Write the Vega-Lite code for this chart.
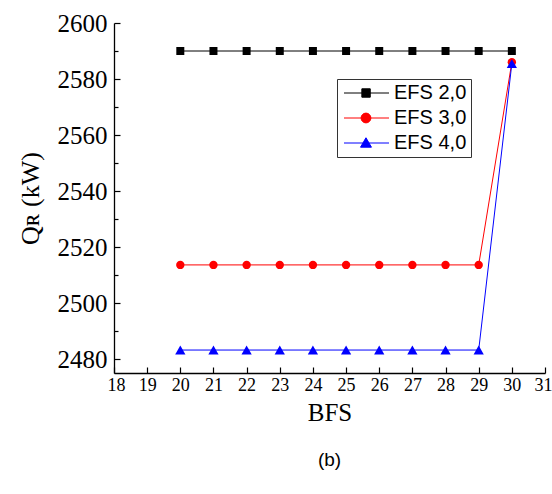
{
  "$schema": "https://vega.github.io/schema/vega-lite/v6.json",
  "width": 431,
  "height": 350,
  "autosize": {"type": "none"},
  "padding": {"left": 114, "top": 23, "right": 7, "bottom": 121},
  "background": "white",
  "title": {"text": "(b)", "orient": "bottom", "font": "Liberation Sans", "fontSize": 19, "fontWeight": "normal", "color": "black", "offset": 26, "anchor": "middle"},
  "data": {"values": [
    {"BFS": 20, "Q": 2590, "s": "EFS 2,0"}, {"BFS": 21, "Q": 2590, "s": "EFS 2,0"}, {"BFS": 22, "Q": 2590, "s": "EFS 2,0"},
    {"BFS": 23, "Q": 2590, "s": "EFS 2,0"}, {"BFS": 24, "Q": 2590, "s": "EFS 2,0"}, {"BFS": 25, "Q": 2590, "s": "EFS 2,0"},
    {"BFS": 26, "Q": 2590, "s": "EFS 2,0"}, {"BFS": 27, "Q": 2590, "s": "EFS 2,0"}, {"BFS": 28, "Q": 2590, "s": "EFS 2,0"},
    {"BFS": 29, "Q": 2590, "s": "EFS 2,0"}, {"BFS": 30, "Q": 2590, "s": "EFS 2,0"},
    {"BFS": 20, "Q": 2513.6, "s": "EFS 3,0"}, {"BFS": 21, "Q": 2513.6, "s": "EFS 3,0"}, {"BFS": 22, "Q": 2513.6, "s": "EFS 3,0"},
    {"BFS": 23, "Q": 2513.6, "s": "EFS 3,0"}, {"BFS": 24, "Q": 2513.6, "s": "EFS 3,0"}, {"BFS": 25, "Q": 2513.6, "s": "EFS 3,0"},
    {"BFS": 26, "Q": 2513.6, "s": "EFS 3,0"}, {"BFS": 27, "Q": 2513.6, "s": "EFS 3,0"}, {"BFS": 28, "Q": 2513.6, "s": "EFS 3,0"},
    {"BFS": 29, "Q": 2513.6, "s": "EFS 3,0"}, {"BFS": 30, "Q": 2586, "s": "EFS 3,0"},
    {"BFS": 20, "Q": 2483.2, "s": "EFS 4,0"}, {"BFS": 21, "Q": 2483.2, "s": "EFS 4,0"}, {"BFS": 22, "Q": 2483.2, "s": "EFS 4,0"},
    {"BFS": 23, "Q": 2483.2, "s": "EFS 4,0"}, {"BFS": 24, "Q": 2483.2, "s": "EFS 4,0"}, {"BFS": 25, "Q": 2483.2, "s": "EFS 4,0"},
    {"BFS": 26, "Q": 2483.2, "s": "EFS 4,0"}, {"BFS": 27, "Q": 2483.2, "s": "EFS 4,0"}, {"BFS": 28, "Q": 2483.2, "s": "EFS 4,0"},
    {"BFS": 29, "Q": 2483.2, "s": "EFS 4,0"}, {"BFS": 30, "Q": 2585.5, "s": "EFS 4,0"}
  ]},
  "encoding": {
    "x": {"field": "BFS", "type": "quantitative",
      "scale": {"domain": [18, 31], "nice": false, "zero": false},
      "axis": {"title": "BFS", "format": "d", "values": [18, 18.5, 19, 19.5, 20, 20.5, 21, 21.5, 22, 22.5, 23, 23.5, 24, 24.5, 25, 25.5, 26, 26.5, 27, 27.5, 28, 28.5, 29, 29.5, 30, 30.5, 31],
        "labelExpr": "datum.value % 1 === 0 ? format(datum.value, 'd') : ''",
        "tickSize": {"expr": "datum.value % 1 === 0 ? -6 : -4"},
        "grid": false, "domainColor": "black", "domainWidth": 1.3, "tickColor": "black", "tickWidth": 1.2,
        "labelFont": "Liberation Serif", "labelFontSize": 18, "labelColor": "black", "labelPadding": 9,
        "labelFlush": true, "labelFlushOffset": 7,
        "titleFont": "Liberation Serif", "titleFontSize": 25, "titleFontWeight": "normal", "titleColor": "black", "titlePadding": 6}},
    "y": {"field": "Q", "type": "quantitative",
      "scale": {"domain": [2475, 2600], "nice": false, "zero": false},
      "axis": {"title": "Qʀ (kW)", "format": "d", "values": [2480, 2490, 2500, 2510, 2520, 2530, 2540, 2550, 2560, 2570, 2580, 2590, 2600],
        "labelExpr": "datum.value % 20 === 0 ? format(datum.value, 'd') : ''",
        "tickSize": {"expr": "datum.value % 20 === 0 ? -6 : -4"},
        "grid": false, "domainColor": "black", "domainWidth": 1.3, "tickColor": "black", "tickWidth": 1.2,
        "labelFont": "Liberation Serif", "labelFontSize": 25, "labelColor": "black", "labelPadding": 13, "labelFlush": false,
        "titleFont": "Liberation Serif", "titleFontSize": 26, "titleFontWeight": "normal", "titleColor": "black", "titlePadding": 14}},
    "color": {"field": "s", "type": "nominal",
      "scale": {"domain": ["EFS 2,0", "EFS 3,0", "EFS 4,0"], "range": ["#000000", "#ff0000", "#0000ff"]},
      "legend": {
        "orient": "none", "legendX": 223, "legendY": 56, "title": null,
        "fillColor": "white", "strokeColor": "#333333", "padding": 4,
        "labelFont": "Liberation Sans", "labelFontSize": 20, "labelColor": "black", "labelLimit": 200,
        "symbolSize": 196, "rowPadding": 5, "labelOffset": 33,
        "encode": {"symbols": {
          "enter": {
            "shape": {"signal": "datum.value === 'EFS 2,0' ? 'M-1,0H5.43M1.55,-0.6H2.75V0.6H1.55Z' : datum.value === 'EFS 3,0' ? 'M-1,0H5.43M2.84,0A0.7,0.7 0 1,1 1.44,0A0.7,0.7 0 1,1 2.84,0Z' : 'M-1,0H5.43M2.14,-0.75L2.92,0.6L1.36,0.6Z'"}
          },
          "update": {
            "shape": {"signal": "datum.value === 'EFS 2,0' ? 'M-1,0H5.43M1.55,-0.6H2.75V0.6H1.55Z' : datum.value === 'EFS 3,0' ? 'M-1,0H5.43M2.84,0A0.7,0.7 0 1,1 1.44,0A0.7,0.7 0 1,1 2.84,0Z' : 'M-1,0H5.43M2.14,-0.75L2.92,0.6L1.36,0.6Z'"},
            "fill": {"scale": "color", "field": "value"},
            "stroke": {"scale": "color", "field": "value"},
            "strokeWidth": {"value": 1},
            "opacity": {"value": 1},
            "fillOpacity": {"value": 1},
            "strokeOpacity": {"value": 1}
          }
        }}
      }}
  },
  "layer": [
    {"mark": {"type": "line", "strokeWidth": 1}},
    {"transform": [{"filter": "datum.s === 'EFS 2,0'"}],
      "mark": {"type": "point", "shape": "square", "filled": true, "opacity": 1, "size": 64}},
    {"transform": [{"filter": "datum.s === 'EFS 3,0'"}],
      "mark": {"type": "point", "shape": "circle", "filled": true, "opacity": 1, "size": 70}},
    {"transform": [{"filter": "datum.s === 'EFS 4,0'"}],
      "mark": {"type": "point", "shape": "triangle-up", "filled": true, "opacity": 1, "size": 105}}
  ],
  "config": {"view": {"stroke": null}}
}
